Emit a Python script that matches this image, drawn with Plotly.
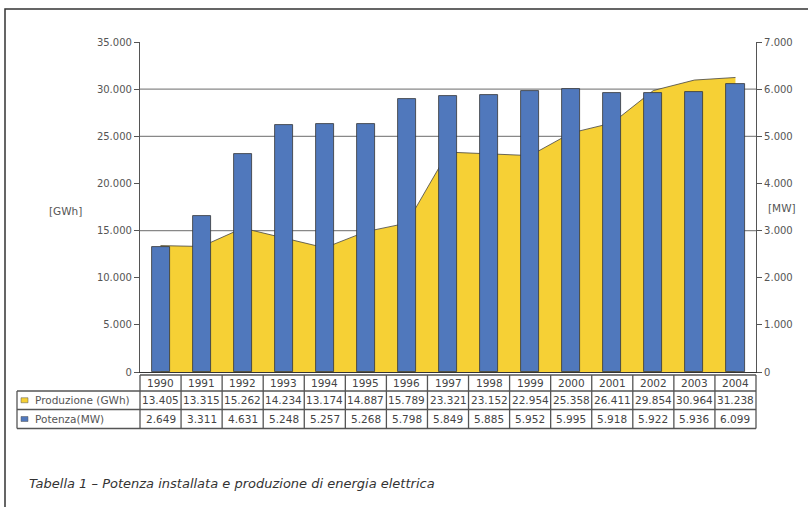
import plotly.graph_objects as go

years = ["1990", "1991", "1992", "1993", "1994", "1995", "1996", "1997",
         "1998", "1999", "2000", "2001", "2002", "2003", "2004"]
produzione_gwh = [13405, 13315, 15262, 14234, 13174, 14887, 15789, 23321,
                  23152, 22954, 25358, 26411, 29854, 30964, 31238]
potenza_mw = [2649, 3311, 4631, 5248, 5257, 5268, 5798, 5849,
              5885, 5952, 5995, 5918, 5922, 5936, 6099]
left_ticks = [0, 5000, 10000, 15000, 20000, 25000, 30000, 35000]
right_ticks = [0, 1000, 2000, 3000, 4000, 5000, 6000, 7000]
grid_values = [15000, 25000, 30000]

YELLOW = "#F6D035"
BLUE = "#5078BC"
FONT = "DejaVu Sans"

W, H = 808, 507
L, R, T, B = 140, 52, 42, 135
PW, PH = W - L - R, H - T - B


def px2x(px):
    return (px - L) / PW


def py2y(py):
    return (H - B - py) / PH


def fmt(v):
    return f"{v:,}".replace(",", ".")


idx = list(range(len(years)))
n = len(years)

fig = go.Figure()
fig.add_trace(go.Scatter(
    x=idx, y=produzione_gwh, mode="lines", fill="tozeroy",
    fillcolor=YELLOW, line=dict(color="#444", width=0.8),
    yaxis="y", showlegend=False, name="Produzione (GWh)"))
fig.add_trace(go.Bar(
    x=idx, y=potenza_mw, width=0.44, marker=dict(color=BLUE, line=dict(color="#333", width=0.8)),
    yaxis="y2", showlegend=False, name="Potenza(MW)"))

shapes = []
for g in grid_values:
    shapes.append(dict(type="line", xref="paper", yref="y", x0=0, x1=1, y0=g, y1=g,
                       line=dict(color="#888", width=1.2), layer="below"))
shapes.append(dict(type="rect", xref="paper", yref="paper", x0=px2x(5), x1=px2x(830),
                   y0=py2y(530), y1=py2y(9), line=dict(color="#333", width=1.5)))

TC = "#555"
row_top, row_y1, row_y2, row_bot = 375, 391, 409.5, 428.5
shapes.append(dict(type="line", xref="paper", yref="paper", x0=0, x1=1,
                   y0=py2y(row_top), y1=py2y(row_top), line=dict(color=TC, width=1.3)))
for py in (row_y1, row_y2, row_bot):
    shapes.append(dict(type="line", xref="paper", yref="paper", x0=px2x(17), x1=1,
                       y0=py2y(py), y1=py2y(py), line=dict(color=TC, width=1.3)))
for i in range(n + 1):
    shapes.append(dict(type="line", xref="paper", yref="paper", x0=i / n, x1=i / n,
                       y0=py2y(row_top), y1=py2y(row_bot), line=dict(color=TC, width=1.3)))
shapes.append(dict(type="line", xref="paper", yref="paper", x0=px2x(17), x1=px2x(17),
                   y0=py2y(row_y1), y1=py2y(row_bot), line=dict(color=TC, width=1.3)))
for color, py in ((YELLOW, (row_y1 + row_y2) / 2), (BLUE, (row_y2 + row_bot) / 2)):
    shapes.append(dict(type="rect", xref="paper", yref="paper", x0=px2x(21), x1=px2x(28),
                       y0=py2y(py + 2.5), y1=py2y(py - 2.5), fillcolor=color,
                       line=dict(color="#555", width=0.5)))

ann = []
tf = dict(family=FONT, size=10.5, color="#444")
lf = dict(family=FONT, size=10.5, color="#555")


def add_text(px_or_x, py, text, xanchor="center", font=tf, paper_x=False):
    x = px_or_x if paper_x else px2x(px_or_x)
    ann.append(dict(x=x, y=py2y(py), xref="paper", yref="paper", xanchor=xanchor,
                    yanchor="middle", text=text, showarrow=False, font=font))


for i in idx:
    xc = (i + 0.5) / n
    add_text(xc, (row_top + row_y1) / 2, years[i], paper_x=True)
    add_text(xc, (row_y1 + row_y2) / 2, fmt(produzione_gwh[i]), paper_x=True)
    add_text(xc, (row_y2 + row_bot) / 2, fmt(potenza_mw[i]), paper_x=True)
add_text(33, (row_y1 + row_y2) / 2, "Produzione (GWh)", xanchor="left", font=lf)
add_text(33, (row_y2 + row_bot) / 2, "Potenza(MW)", xanchor="left", font=lf)
add_text(47, 211, "[GWh]", xanchor="left", font=lf)
add_text(766, 208, "[MW]", xanchor="left", font=lf)
add_text(27, 483, "<i>Tabella 1 – Potenza installata e produzione di energia elettrica</i>",
         xanchor="left", font=dict(family=FONT, size=13, color="#333"))

axfont = dict(family=FONT, size=10, color="#555")
fig.update_layout(
    width=W, height=H, margin=dict(l=L, r=R, t=T, b=B),
    paper_bgcolor="white", plot_bgcolor="white",
    xaxis=dict(range=[-0.5, n - 0.5], showticklabels=False, ticks="", showgrid=False,
               zeroline=False, showline=True, linecolor="#333", linewidth=1.2),
    yaxis=dict(range=[0, 35000], tickvals=left_ticks, ticktext=[fmt(v) for v in left_ticks],
               showgrid=False, zeroline=False, showline=True, linecolor="#555", linewidth=1.2,
               ticks="outside", ticklen=5, tickcolor="#555", tickfont=axfont),
    yaxis2=dict(range=[0, 7000], overlaying="y", side="right", tickvals=right_ticks,
                ticktext=[fmt(v) for v in right_ticks], showgrid=False, zeroline=False,
                showline=True, linecolor="#555", linewidth=1.2, ticks="outside", ticklen=5,
                tickcolor="#555", tickfont=axfont),
    shapes=shapes, annotations=ann, bargap=0,
)

fig.write_html("out.html")
